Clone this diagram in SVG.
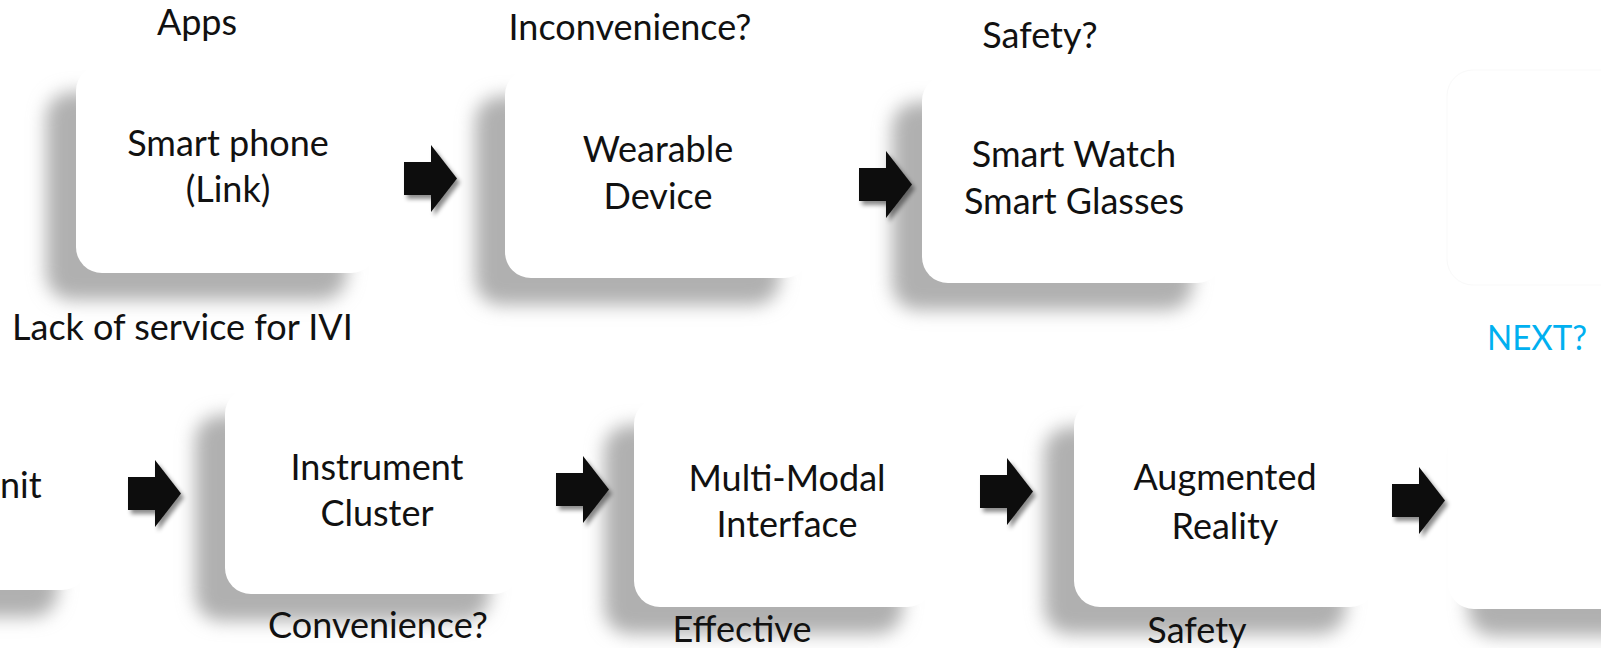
<svg xmlns="http://www.w3.org/2000/svg" width="1601" height="648" viewBox="0 0 1601 648">
<defs>
<filter id="blur" x="-25%" y="-25%" width="150%" height="150%"><feGaussianBlur stdDeviation="9"/></filter>
<filter id="ash" x="-30%" y="-30%" width="160%" height="160%"><feDropShadow dx="3" dy="4" stdDeviation="2" flood-color="#000" flood-opacity="0.45"/></filter>
<path id="arr" d="M0,17 H27 V0 L53,33.5 L27,67 V50 H0 Z"/>
</defs>
<style>
.sh{fill:#b0b0b0;filter:url(#blur)}
.bx{fill:#fff}
.t{font-family:Lato,"Liberation Sans",sans-serif;font-size:36px;fill:#111;text-anchor:middle}
.l{font-family:Lato,"Liberation Sans",sans-serif;font-size:36px;fill:#111}
.a{fill:#111;filter:url(#ash)}
</style>
<rect width="1601" height="648" fill="#fff"/>
<g id="faint-box"><rect x="1447" y="70" width="220" height="215" rx="26" fill="#fff" stroke="#f9f9f9" stroke-width="1"/></g>
<g id="n-smartphone">
<rect class="sh" x="46" y="92" width="301" height="208" rx="26"/>
<rect class="bx" x="76" y="65" width="301" height="208" rx="26"/>
<text class="t" x="228" y="156">Smart phone</text>
<text class="t" x="228" y="202">(Link)</text>
</g>
<g id="n-wearable">
<rect class="sh" x="475" y="96" width="305" height="209" rx="26"/>
<rect class="bx" x="505" y="69" width="305" height="209" rx="26"/>
<text class="t" x="658" y="162">Wearable</text>
<text class="t" x="658" y="209">Device</text>
</g>
<g id="n-smartwatch">
<rect class="sh" x="892" y="102" width="301" height="208" rx="26"/>
<rect class="bx" x="922" y="75" width="301" height="208" rx="26"/>
<text class="t" x="1074" y="167">Smart Watch</text>
<text class="t" x="1074" y="214">Smart Glasses</text>
</g>
<g id="n-headunit">
<rect class="sh" x="-245" y="410" width="303" height="207" rx="26"/>
<rect class="bx" x="-215" y="383" width="303" height="207" rx="26"/>
<text class="l" x="0" y="498">nit</text>
</g>
<g id="n-cluster">
<rect class="sh" x="195" y="415" width="295" height="206" rx="26"/>
<rect class="bx" x="225" y="388" width="295" height="206" rx="26"/>
<text class="t" x="377" y="480">Instrument</text>
<text class="t" x="377" y="526">Cluster</text>
</g>
<g id="n-multimodal">
<rect class="sh" x="604" y="425" width="299" height="209" rx="26"/>
<rect class="bx" x="634" y="398" width="299" height="209" rx="26"/>
<text class="t" x="787" y="491">Multi-Modal</text>
<text class="t" x="787" y="537">Interface</text>
</g>
<g id="n-ar">
<rect class="sh" x="1044" y="427" width="302" height="207" rx="26"/>
<rect class="bx" x="1074" y="400" width="302" height="207" rx="26"/>
<text class="t" x="1225" y="490">Augmented</text>
<text class="t" x="1225" y="539">Reality</text>
</g>
<g id="n-next">
<rect class="sh" x="1468" y="429" width="220" height="207" rx="26"/>
<rect class="bx" x="1448" y="402" width="220" height="207" rx="26"/>
</g>
<g id="labels">
<text class="t" x="197" y="35">Apps</text>
<text class="t" x="630" y="40">Inconvenience?</text>
<text class="t" x="1040" y="48">Safety?</text>
<text class="l" x="12" y="340">Lack of service for IVI</text>
<text class="l" x="1487" y="350" style="fill:#00B0F0;font-size:34px" textLength="100" lengthAdjust="spacingAndGlyphs">NEXT?</text>
<text class="t" x="378" y="638">Convenience?</text>
<text class="t" x="742" y="642">Effective</text>
<text class="t" x="1197" y="643">Safety</text>
</g>
<g id="connectors">
<use href="#arr" class="a" x="404" y="145"/>
<use href="#arr" class="a" x="859" y="151"/>
<use href="#arr" class="a" x="128" y="460"/>
<use href="#arr" class="a" x="556" y="456"/>
<use href="#arr" class="a" x="980" y="458"/>
<use href="#arr" class="a" x="1392" y="467"/>
</g>
</svg>
